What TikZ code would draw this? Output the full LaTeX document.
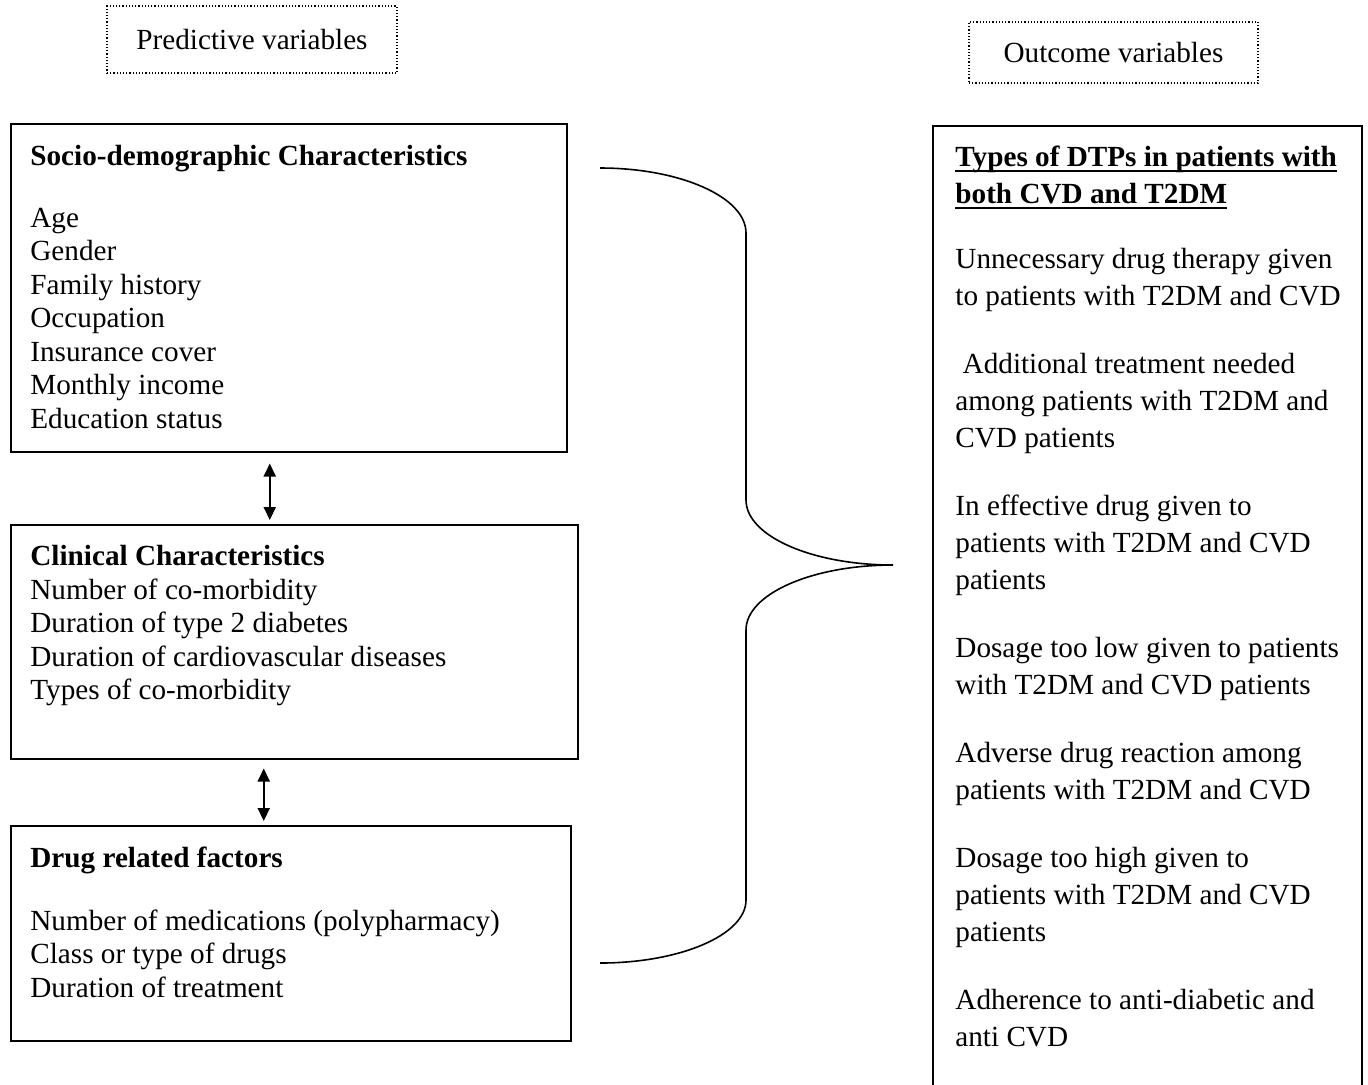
\documentclass[tikz,border=0pt]{standalone}
\usepackage{fontspec}
\setmainfont{Liberation Serif}
\usetikzlibrary{arrows.meta}
\newcommand\ulbf[1]{\leavevmode\setbox0\hbox{\textbf{#1}}\rlap{\rule[-2.6pt]{\wd0}{1pt}}\box0}
\begin{document}
\begin{tikzpicture}[x=0.5pt,y=-0.5pt,
  box/.style={draw,line width=0.75pt,inner sep=0pt,anchor=north west},
  dotbox/.style={draw,line width=0.6pt,densely dotted,inner sep=0pt,font=\fontsize{14.6pt}{16.8pt}\selectfont},
  txt/.style={anchor=north west,inner sep=0pt,align=left,font=\fontsize{14.6pt}{16.75pt}\selectfont},
  rtxt/.style={anchor=north west,inner sep=0pt,align=left,font=\fontsize{14.6pt}{18.5pt}\selectfont},
  dbl/.style={{Triangle[length=6.5pt,width=6pt]}-{Triangle[length=6.5pt,width=6pt]},line width=1pt},
  brace/.style={line width=0.8pt}]
\useasboundingbox (0,0) rectangle (1368,1084);

% header boxes
\node[dotbox,minimum width=145pt,minimum height=33.5pt] (pv) at (252,39.5) {Predictive variables};
\node[dotbox,minimum width=144.5pt,minimum height=30.5pt] (ov) at (1113.5,52.5) {Outcome variables};

% left boxes
\node[box,minimum width=278pt,minimum height=164pt] (b1) at (10,123) {};
\node[box,minimum width=283.5pt,minimum height=117pt] (b2) at (10,524) {};
\node[box,minimum width=280pt,minimum height=107.5pt] (b3) at (10,825) {};

\node[txt] (t1) at (30,141.5) {\strut\textbf{Socio-demographic Characteristics}\\[14.25pt]
Age\\ Gender\\ Family history\\ Occupation\\ Insurance cover\\ Monthly income\\ Education status};
\node[txt] (t2) at (30,542) {\strut\textbf{Clinical Characteristics}\\
Number of co-morbidity\\ Duration of type 2 diabetes\\ Duration of cardiovascular diseases\\ Types of co-morbidity};
\node[txt] (t3) at (30,843.5) {\strut\textbf{Drug related factors}\\[14.75pt]
Number of medications (polypharmacy)\\ Class or type of drugs\\ Duration of treatment};

% arrows between left boxes
\draw[dbl] ([xshift=-9.5pt,yshift=-5.5pt]b1.south) -- ([xshift=-12.25pt,yshift=2pt]b2.north);
\draw[dbl] ([xshift=-15.25pt,yshift=-4.5pt]b2.south) -- ([xshift=-13.5pt,yshift=2pt]b3.north);

% right box (continues beyond the page bottom)
\node[inner sep=0pt,anchor=north west,minimum width=214pt,minimum height=479pt] (rb) at (933,126) {};
\draw[line width=0.75pt] (rb.south west) -- (rb.north west) -- (rb.north east) -- (rb.south east);

\node[rtxt] (rt) at (955,140) {\strut\ulbf{Types of DTPs in patients with}\\
\ulbf{both CVD and T2DM}\\[14pt]
Unnecessary drug therapy given\\ to patients with T2DM and CVD\\[15.5pt]
\ Additional treatment needed\\ among patients with T2DM and\\ CVD patients\\[15.5pt]
In effective drug given to\\ patients with T2DM and CVD\\ patients\\[15.5pt]
Dosage too low given to patients\\ with T2DM and CVD patients\\[15.5pt]
Adverse drug reaction among\\ patients with T2DM and CVD\\[15.5pt]
Dosage too high given to\\ patients with T2DM and CVD\\ patients\\[15.5pt]
Adherence to anti-diabetic and\\ anti CVD};

% brace
\coordinate (bt) at (600,168);
\coordinate (tip) at (893,565);
\coordinate (bb) at (600,963);
\draw[brace] (bt) .. controls (680,168) and (746,197) .. (746,233) -- (746,500)
  .. controls (746,536) and (812,565) .. (tip)
  .. controls (812,565) and (746,594) .. (746,630) -- (746,900)
  .. controls (746,935) and (680,963) .. (bb);
\end{tikzpicture}
\end{document}
